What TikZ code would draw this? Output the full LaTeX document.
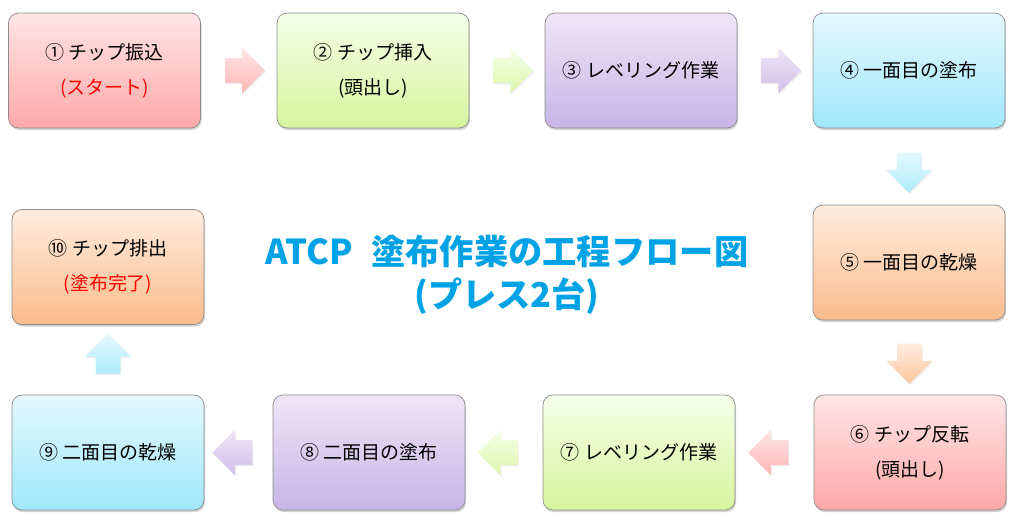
\documentclass[tikz,border=0pt]{standalone}
\usepackage{fontspec}
\setmainfont{Noto Sans CJK JP}
\usepackage{tikz}
\usetikzlibrary{shapes.arrows,calc,shadows}
\definecolor{pinkTop}{RGB}{255,230,230}
\definecolor{pinkBot}{RGB}{255,168,168}
\definecolor{greenTop}{RGB}{246,255,232}
\definecolor{greenBot}{RGB}{214,245,158}
\definecolor{purpleTop}{RGB}{238,230,247}
\definecolor{purpleBot}{RGB}{200,180,230}
\definecolor{cyanTop}{RGB}{228,248,255}
\definecolor{cyanBot}{RGB}{160,232,250}
\definecolor{orangeTop}{RGB}{255,236,222}
\definecolor{orangeBot}{RGB}{250,188,140}
\definecolor{titleBlue}{RGB}{0,162,230}

\begin{document}
\begin{tikzpicture}[
    procbox/.style={draw=black!45, line width=0.4pt, rounded corners=0.2cm,
      minimum width=3.84cm, minimum height=2.3cm, align=center,
      font=\fontsize{10.8}{20}\selectfont,
      drop shadow={shadow xshift=0.6pt, shadow yshift=-1.2pt, opacity=0.35}},
    flowarrow/.style={single arrow, minimum height=0.8cm, inner sep=0.24cm,
      single arrow head extend=0.21cm,
      drop shadow={shadow xshift=0.4pt, shadow yshift=-0.8pt, opacity=0.15}}
  ]
  \useasboundingbox (0,0) rectangle (20.36,-10.42);
  % Top row
  \node[procbox, top color=pinkTop, bottom color=pinkBot] (p1) at (2.09,-1.41)
    {① チップ振込\\\textcolor{red}{(スタート)}};
  \node[procbox, top color=greenTop, bottom color=greenBot] (p2) at (7.46,-1.41)
    {② チップ挿入\\(頭出し)};
  \node[procbox, top color=purpleTop, bottom color=purpleBot] (p3) at (12.82,-1.41)
    {③ レベリング作業};
  \node[procbox, top color=cyanTop, bottom color=cyanBot] (p4) at (18.18,-1.41)
    {④ 一面目の塗布};
  % Right column
  \node[procbox, top color=orangeTop, bottom color=orangeBot] (p5) at (18.18,-5.25)
    {⑤ 一面目の乾燥};
  % Bottom row
  \node[procbox, top color=pinkTop, bottom color=pinkBot] (p6) at (18.2,-9.05)
    {⑥ チップ反転\\(頭出し)};
  \node[procbox, top color=greenTop, bottom color=greenBot] (p7) at (12.78,-9.05)
    {⑦ レベリング作業};
  \node[procbox, top color=purpleTop, bottom color=purpleBot] (p8) at (7.38,-9.05)
    {⑧ 二面目の塗布};
  \node[procbox, top color=cyanTop, bottom color=cyanBot] (p9) at (2.16,-9.05)
    {⑨ 二面目の乾燥};
  % Left column
  \node[procbox, top color=orangeTop, bottom color=orangeBot] (p10) at (2.16,-5.34)
    {⑩ チップ排出\\\textcolor{red}{(塗布完了)}};
  % Title
  \node[font=\fontsize{19.5}{24.5}\selectfont\bfseries, text=titleBlue, align=center]
    (title) at (10.14,-5.5) {ATCP\hspace{0.55em}塗布作業の工程フロー図\\(プレス2台)};
  % Arrows
  \node[flowarrow, top color=pinkTop, bottom color=pinkBot!85] (a1) at ($(p1)!0.5!(p2)$) {};
  \node[flowarrow, top color=greenTop, bottom color=greenBot!85] (a2) at ($(p2)!0.5!(p3)$) {};
  \node[flowarrow, top color=purpleTop, bottom color=purpleBot!85] (a3) at ($(p3)!0.5!(p4)$) {};
  \node[flowarrow, shape border rotate=270, top color=cyanTop, bottom color=cyanBot!85] (a4) at ($(p4)!0.5!(p5)$) {};
  \node[flowarrow, shape border rotate=270, top color=orangeTop, bottom color=orangeBot!85] (a5) at ($(p5)!0.5!(p6)$) {};
  \node[flowarrow, shape border rotate=180, top color=pinkTop, bottom color=pinkBot!85] (a6) at ($(p6)!0.5!(p7)$) {};
  \node[flowarrow, shape border rotate=180, top color=greenTop, bottom color=greenBot!85] (a7) at ($(p7)!0.5!(p8)$) {};
  \node[flowarrow, shape border rotate=180, top color=purpleTop, bottom color=purpleBot!85] (a8) at ($(p8)!0.5!(p9)$) {};
  \node[flowarrow, shape border rotate=90, top color=cyanTop, bottom color=cyanBot!85] (a9) at ($(p9)!0.5!(p10)$) {};
\end{tikzpicture}
\end{document}
